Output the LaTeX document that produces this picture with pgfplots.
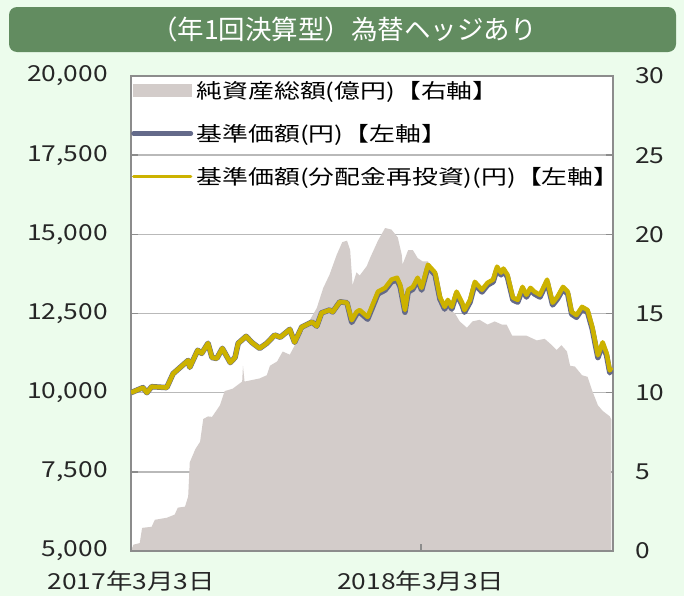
\documentclass[border=0pt]{standalone}
\usepackage{fontspec}
\setmainfont{Noto Sans CJK JP}[FakeStretch=1.2]
\newfontfamily\legfont{Noto Sans CJK JP}[FakeStretch=1.28]
\newfontfamily\titlefont{Noto Sans CJK JP}
\usepackage{pgfplots}
\pgfplotsset{compat=1.18}
\definecolor{bg}{RGB}{236,252,236}
\definecolor{banner}{RGB}{98,140,96}
\definecolor{areac}{RGB}{211,204,202}
\definecolor{navc}{RGB}{100,106,138}
\definecolor{navr}{RGB}{204,178,0}
\definecolor{framec}{RGB}{140,140,140}
\definecolor{gridc}{RGB}{185,185,185}
\pgfplotsset{base/.style={scale only axis, width=482bp, height=475bp,
  at={(131bp,-551bp)}, anchor=south west, xmin=0, xmax=607,
  ticklabel style={font=\fontsize{22bp}{26bp}\selectfont, text=black!85},
  /pgf/number format/assume math mode=true,
  scaled y ticks=false, tick align=inside,
  major tick length=7bp, tick style={framec, line width=1.5bp},
  axis line style={framec, line width=2.5bp}}}
\begin{document}
\begin{tikzpicture}
\fill[bg] (0,0) rectangle (684bp,-596bp);
\fill[banner, rounded corners=8bp] (9bp,-7bp) rectangle (676bp,-52bp);
\node[white, font=\titlefont\fontsize{26.5bp}{30bp}\selectfont] at (344bp,-29.5bp) {（年1回決算型）為替ヘッジあり};

\begin{axis}[base, ymin=0, ymax=30, axis x line=none, axis y line*=right,
  ytick={0,5,...,30}, ymajorgrids, grid style={gridc, line width=1.5bp},
  yticklabel style={anchor=west, inner xsep=0pt, xshift=22bp},
  axis background/.style={fill=white}]
\addplot[fill=areac, draw=none] coordinates {
(0,0)(3,0.4)(11,0.5)(14,1.46)(26,1.53)(30,1.97)(45,2.1)(55,2.3)(59,2.74)(68,2.8)(72,3.44)(74,5.6)(81,6.43)(87,6.9)(91,8.34)(97,8.5)(102,8.47)(108,8.9)(112,9.2)(118,10.1)(128,10.25)(140,10.7)(141,11.7)(143,10.7)(162,10.9)(171,11.1)(175,11.7)(184,11.97)(191,12.6)(200,12.4)(209,13.25)(222,14.3)(234,15.35)(242,16.6)(250,17.45)(259,18.7)(266,19.5)(272,19.6)(276,19.0)(279,16.8)(284,17.6)(288,17.4)(297,18.0)(301,18.5)(311,19.6)(320,20.4)(328,20.3)(336,19.8)(341,18.7)(342,18.1)(349,19.0)(355,19.0)(361,18.5)(367,18.3)(374,18.3)(380,17.3)(391,16.0)(399,15.35)(408,15.0)(414,14.5)(423,14.1)(430,14.5)(439,14.6)(449,14.3)(458,14.5)(467,14.3)(473,14.3)(480,13.6)(490,13.6)(498,13.6)(511,13.3)(521,13.4)(530,13.0)(536,12.7)(542,13.0)(549,12.6)(553,11.7)(559,11.65)(568,11.1)(575,11.0)(581,10.1)(588,9.2)(594,8.85)(603,8.5)(605,8.3)
} \closedcycle;
\end{axis}

\begin{axis}[base, ymin=5000, ymax=20000, ytick={5000,7500,...,20000},
  ytick pos=left, xtick={0,365}, xticklabels={2017年3月3日, 2018年3月3日},
  xtick pos=bottom,
  yticklabel style={/pgf/number format/1000 sep={,}, anchor=east, inner xsep=0pt, xshift=-23bp},
  xticklabel style={anchor=north, inner ysep=0pt, yshift=-20bp},
  legend cell align=left,
  legend style={at={(0,1)}, anchor=north west, draw=none, fill=none,
    inner xsep=0pt, inner ysep=0pt, yshift=-5bp, row sep=24.5bp,
    font=\legfont\fontsize{20.2bp}{23bp}\selectfont,
    nodes={inner xsep=3.5bp, inner ysep=0pt}}]
\addlegendimage{legend image code/.code={\fill[areac] (0bp,-6bp) rectangle (57bp,6bp);}}
\addlegendentry{純資産総額(億円)【右軸】}
\addplot[navc, line width=5.5bp, line join=round,
  legend image code/.code={\draw[navc, line width=5bp, line cap=round] (0bp,0) -- (57bp,0);}] coordinates {
(0,10000)(15,10160)(20,10000)(26,10190)(45,10160)(53,10600)(72,11020)(74,10800)(84,11340)(89,11240)(97,11560)(102,11110)(108,11080)(115,11400)(125,10950)(131,11110)(135,11560)(145,11780)(152,11590)(162,11400)(171,11560)(181,11820)(188,11750)(200,12000)(206,11590)(215,12070)(228,12230)(234,12100)(240,12520)(250,12610)(254,12550)(263,12870)(272,12840)(278,12220)(284,12480)(288,12540)(298,12320)(311,13120)(320,13240)(328,13500)(335,13560)(339,13340)(345,12540)(349,13180)(355,13270)(361,13560)(366,13240)(374,13970)(383,13720)(389,12960)(395,12640)(399,12860)(404,12640)(410,13120)(417,12770)(420,12540)(427,12860)(433,13430)(442,13180)(449,13400)(456,13500)(461,13910)(466,13720)(469,13850)(474,13660)(481,12930)(487,12860)(493,13270)(498,13020)(503,13240)(508,13120)(515,13020)(524,13500)(531,12770)(537,12960)(544,13270)(550,13120)(555,12480)(561,12380)(568,12640)(575,12540)(581,12000)(588,11110)(594,11520)(599,11170)(603,10630)(605,10730)
};
\addlegendentry{基準価額(円)【左軸】}
\addplot[navr, line width=4.5bp, line join=round,
  legend image code/.code={\draw[navr, line width=3.5bp, line cap=round] (0bp,0) -- (57bp,0);}] coordinates {
(0,10000)(15,10160)(20,10000)(26,10190)(45,10160)(53,10600)(72,11020)(74,10800)(84,11340)(89,11240)(97,11560)(102,11110)(108,11080)(115,11400)(125,10950)(131,11110)(135,11560)(145,11780)(152,11590)(162,11400)(171,11560)(181,11820)(188,11750)(200,12000)(206,11590)(215,12070)(228,12230)(234,12100)(240,12520)(250,12610)(254,12550)(263,12870)(272,12840)(278,12290)(284,12550)(288,12610)(298,12390)(311,13190)(320,13310)(328,13570)(335,13630)(339,13410)(345,12610)(349,13250)(355,13340)(361,13630)(366,13310)(374,14040)(383,13790)(389,13030)(395,12710)(399,12930)(404,12710)(410,13190)(417,12840)(420,12610)(427,12930)(433,13500)(442,13250)(449,13470)(456,13570)(461,13980)(466,13790)(469,13920)(474,13730)(481,13000)(487,12930)(493,13340)(498,13090)(503,13310)(508,13190)(515,13090)(524,13570)(531,12840)(537,13030)(544,13340)(550,13190)(555,12550)(561,12450)(568,12710)(575,12610)(581,12070)(588,11180)(594,11590)(599,11240)(603,10700)(605,10800)
};
\addlegendentry{基準価額(分配金再投資)(円)【左軸】}
\end{axis}
\pgfresetboundingbox
\path[use as bounding box] (0,0) rectangle (684bp,-596bp);
\end{tikzpicture}
\end{document}
